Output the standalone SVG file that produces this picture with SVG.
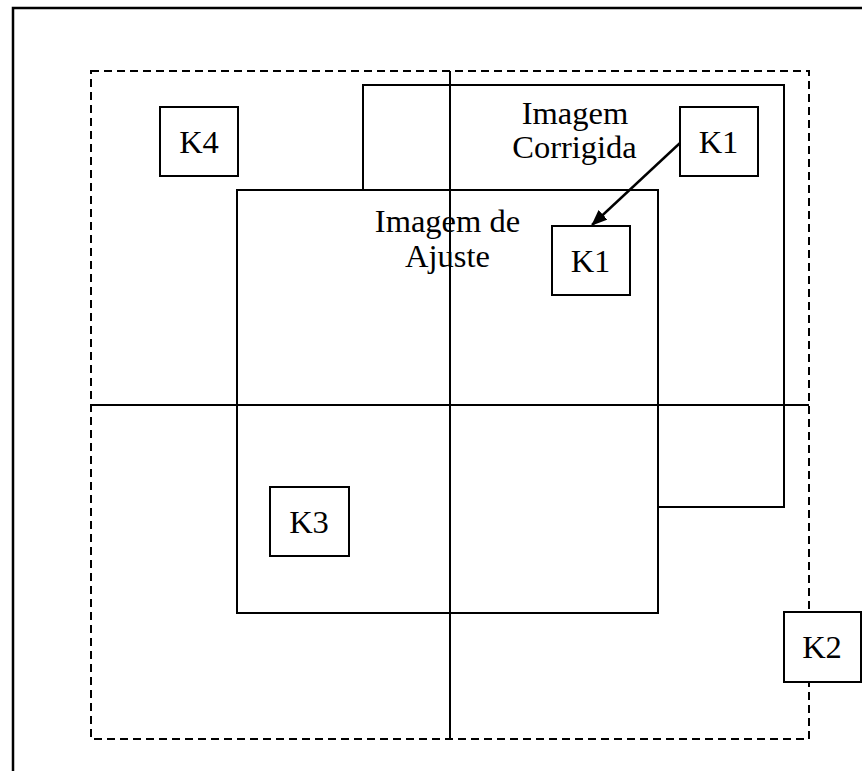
<svg xmlns="http://www.w3.org/2000/svg" width="862" height="771" viewBox="0 0 862 771">
  <style>
    .frame { fill: none; stroke: #000; stroke-width: 2.5; }
    .tile { fill: none; stroke: #000; stroke-width: 2; stroke-dasharray: 8 5; }
    .img { fill: #fff; stroke: #000; stroke-width: 2; }
    .grid { fill: none; stroke: #000; stroke-width: 2; }
    .box { fill: #fff; stroke: #000; stroke-width: 2; }
    .lbl { font-size: 32.5px; fill: #000; text-anchor: middle; }
    .edge { fill: none; stroke: #000; stroke-width: 2.4; }
  </style>
  <defs>
    <marker id="arrowhead" markerWidth="16" markerHeight="13" refX="15" refY="6.5" orient="auto" markerUnits="userSpaceOnUse">
      <path d="M0,0 L16,6.5 L0,13 Z" fill="#000"/>
    </marker>
  </defs>

  <rect width="862" height="771" fill="#fff"/>

  <!-- outer frame (open on right and bottom) -->
  <path class="frame" d="M13,771 L13,8 L862,8"/>

  <!-- dashed tile boundary -->
  <rect class="tile" x="91" y="71" width="718" height="668"/>

  <g font-family="'Liberation Serif', 'Times New Roman', serif">
    <!-- corrected image -->
    <g id="imagem-corrigida">
      <rect class="img" x="363" y="85" width="421" height="422"/>
      <text class="lbl" x="575" y="124">Imagem</text>
      <text class="lbl" x="574.5" y="158">Corrigida</text>
    </g>

    <!-- adjustment image -->
    <g id="imagem-ajuste">
      <rect class="img" x="237" y="190" width="421" height="423"/>
      <text class="lbl" x="447.5" y="231.5">Imagem de</text>
      <text class="lbl" x="447.5" y="266.5">Ajuste</text>
    </g>

    <!-- quadrant dividers -->
    <g id="grid">
      <line class="grid" x1="450" y1="71" x2="450" y2="739"/>
      <line class="grid" x1="91" y1="405" x2="809" y2="405"/>
    </g>

    <g id="k4">
      <rect class="box" x="160" y="107" width="78" height="69"/>
      <text class="lbl" x="199" y="153">K4</text>
    </g>

    <g id="k1-corrigida">
      <rect class="box" x="680" y="107" width="78" height="69"/>
      <text class="lbl" x="718.5" y="153">K1</text>
    </g>

    <g id="k1-ajuste">
      <rect class="box" x="552" y="226" width="78" height="69"/>
      <text class="lbl" x="590.5" y="272">K1</text>
    </g>

    <g id="k3">
      <rect class="box" x="270" y="487" width="79" height="69"/>
      <text class="lbl" x="309" y="533">K3</text>
    </g>

    <g id="k2">
      <rect class="box" x="784" y="612" width="77" height="70"/>
      <text class="lbl" x="822" y="658">K2</text>
    </g>
  </g>

  <g id="connectors">
    <line class="edge" x1="680" y1="143" x2="592" y2="225" marker-end="url(#arrowhead)"/>
  </g>
</svg>
